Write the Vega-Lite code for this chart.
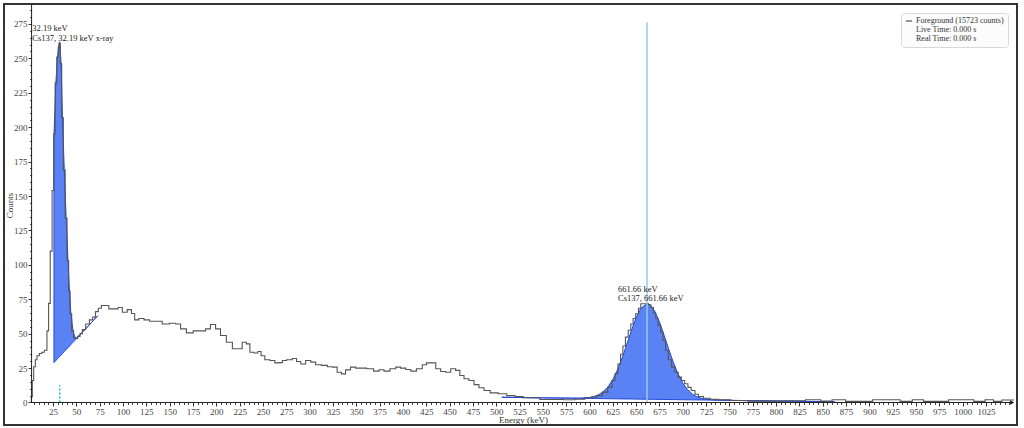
{
  "$schema": "https://vega.github.io/schema/vega-lite/v6.json",
  "width": 1013,
  "height": 421,
  "padding": {"left": 4, "top": 4, "right": 7, "bottom": 3},
  "autosize": {"type": "none"},
  "background": "white",
  "config": {
    "view": {"stroke": "#333333", "strokeWidth": 2},
    "font": "Liberation Serif"
  },
  "datasets": {
    "spectrum": [
      {"energy": 1.5, "counts": 0}, {"energy": 2, "counts": 4}, {"energy": 3.5, "counts": 16}, {"energy": 5, "counts": 26},
      {"energy": 7, "counts": 31}, {"energy": 8.6, "counts": 34}, {"energy": 12, "counts": 35.6}, {"energy": 14, "counts": 36.5},
      {"energy": 17.5, "counts": 38}, {"energy": 19.5, "counts": 52}, {"energy": 21, "counts": 72}, {"energy": 23, "counts": 110},
      {"energy": 25, "counts": 154}, {"energy": 26.5, "counts": 195}, {"energy": 28, "counts": 232}, {"energy": 30, "counts": 251},
      {"energy": 31.2, "counts": 258}, {"energy": 32, "counts": 261}, {"energy": 33.6, "counts": 246}, {"energy": 35, "counts": 207},
      {"energy": 37, "counts": 169}, {"energy": 39, "counts": 134}, {"energy": 41, "counts": 103}, {"energy": 42.5, "counts": 81},
      {"energy": 44, "counts": 64.5}, {"energy": 46, "counts": 52}, {"energy": 48, "counts": 47}, {"energy": 50, "counts": 46.5},
      {"energy": 53, "counts": 48}, {"energy": 55, "counts": 50}, {"energy": 58, "counts": 53}, {"energy": 62, "counts": 57},
      {"energy": 66, "counts": 60}, {"energy": 69, "counts": 62}, {"energy": 72, "counts": 66}, {"energy": 75, "counts": 68.5},
      {"energy": 78.6, "counts": 70.5}, {"energy": 82, "counts": 70.5}, {"energy": 87.6, "counts": 68}, {"energy": 93, "counts": 68},
      {"energy": 96.5, "counts": 69}, {"energy": 102, "counts": 65.6}, {"energy": 107, "counts": 67.5}, {"energy": 111, "counts": 64.6},
      {"energy": 114, "counts": 60}, {"energy": 120, "counts": 61}, {"energy": 125, "counts": 60}, {"energy": 132, "counts": 59},
      {"energy": 139, "counts": 59}, {"energy": 145, "counts": 57}, {"energy": 154, "counts": 57.6}, {"energy": 159, "counts": 57},
      {"energy": 164.5, "counts": 53.5}, {"energy": 171.5, "counts": 50.6}, {"energy": 179, "counts": 52}, {"energy": 186, "counts": 52},
      {"energy": 191, "counts": 53.5}, {"energy": 196.5, "counts": 56.7}, {"energy": 202, "counts": 53.5}, {"energy": 207, "counts": 48.7},
      {"energy": 214.5, "counts": 43.8}, {"energy": 220, "counts": 39}, {"energy": 225, "counts": 39}, {"energy": 230.5, "counts": 43.8},
      {"energy": 234, "counts": 42.6}, {"energy": 238, "counts": 36.5}, {"energy": 243, "counts": 36}, {"energy": 246, "counts": 37},
      {"energy": 250, "counts": 34}, {"energy": 254, "counts": 31}, {"energy": 261, "counts": 30.5}, {"energy": 264.5, "counts": 28.8},
      {"energy": 270, "counts": 29}, {"energy": 271.6, "counts": 30.5}, {"energy": 279, "counts": 31}, {"energy": 284, "counts": 32},
      {"energy": 288, "counts": 29.8}, {"energy": 293, "counts": 28}, {"energy": 298.5, "counts": 30.5}, {"energy": 304, "counts": 29.3},
      {"energy": 309, "counts": 27.4}, {"energy": 316, "counts": 27}, {"energy": 322, "counts": 26}, {"energy": 327, "counts": 25.7},
      {"energy": 332, "counts": 22}, {"energy": 336, "counts": 20.8}, {"energy": 341, "counts": 23.7}, {"energy": 346.7, "counts": 25.7},
      {"energy": 352, "counts": 25}, {"energy": 357, "counts": 25}, {"energy": 365, "counts": 24.5}, {"energy": 372, "counts": 22.8},
      {"energy": 377, "counts": 23.8}, {"energy": 382.5, "counts": 22.8}, {"energy": 389.6, "counts": 24.5}, {"energy": 395, "counts": 25.7},
      {"energy": 400, "counts": 25}, {"energy": 406, "counts": 24}, {"energy": 411, "counts": 22.8}, {"energy": 418, "counts": 24.5},
      {"energy": 423.6, "counts": 27.4}, {"energy": 427, "counts": 28.8}, {"energy": 432.5, "counts": 28.8}, {"energy": 438, "counts": 24.5},
      {"energy": 443, "counts": 22.5}, {"energy": 448.5, "counts": 22}, {"energy": 454, "counts": 24.5}, {"energy": 459, "counts": 23.3},
      {"energy": 463, "counts": 19.6}, {"energy": 468, "counts": 17.2}, {"energy": 473.5, "counts": 16}, {"energy": 479, "counts": 13},
      {"energy": 484, "counts": 10.7}, {"energy": 490, "counts": 8.7}, {"energy": 497, "counts": 7}, {"energy": 507.5, "counts": 6.3},
      {"energy": 515, "counts": 5}, {"energy": 525.5, "counts": 4.4}, {"energy": 532.6, "counts": 3.4}, {"energy": 543, "counts": 3.4},
      {"energy": 550.5, "counts": 2.2}, {"energy": 565, "counts": 2.2}, {"energy": 579, "counts": 2}, {"energy": 590, "counts": 2.4},
      {"energy": 600, "counts": 3.4}, {"energy": 605, "counts": 4}, {"energy": 611, "counts": 5}, {"energy": 617, "counts": 7.5},
      {"energy": 622, "counts": 11}, {"energy": 626, "counts": 16}, {"energy": 629, "counts": 21}, {"energy": 632, "counts": 28},
      {"energy": 634.6, "counts": 35}, {"energy": 637, "counts": 41}, {"energy": 640, "counts": 47.5}, {"energy": 643, "counts": 52.5},
      {"energy": 645.5, "counts": 57}, {"energy": 648, "counts": 61}, {"energy": 651, "counts": 64.5}, {"energy": 654, "counts": 68.5},
      {"energy": 656, "counts": 71.7}, {"energy": 662, "counts": 71.7}, {"energy": 664.5, "counts": 71}, {"energy": 667, "counts": 69},
      {"energy": 670, "counts": 65}, {"energy": 672, "counts": 61}, {"energy": 675, "counts": 56}, {"energy": 677.5, "counts": 51},
      {"energy": 680, "counts": 45}, {"energy": 683, "counts": 38}, {"energy": 686, "counts": 31}, {"energy": 690, "counts": 25.7},
      {"energy": 693, "counts": 22}, {"energy": 697, "counts": 18.4}, {"energy": 700, "counts": 16}, {"energy": 704, "counts": 13.6},
      {"energy": 707, "counts": 11}, {"energy": 711, "counts": 8.7}, {"energy": 715, "counts": 6}, {"energy": 718.5, "counts": 4.4},
      {"energy": 725.6, "counts": 3.1}, {"energy": 733, "counts": 2.4}, {"energy": 743, "counts": 2}, {"energy": 760, "counts": 1.5},
      {"energy": 780, "counts": 1}, {"energy": 800, "counts": 1}, {"energy": 820, "counts": 1.3}, {"energy": 843, "counts": 2},
      {"energy": 853, "counts": 1}, {"energy": 867, "counts": 2}, {"energy": 882, "counts": 0.8}, {"energy": 925, "counts": 2},
      {"energy": 941, "counts": 0.8}, {"energy": 951, "counts": 2}, {"energy": 965, "counts": 0.8}, {"energy": 1005, "counts": 2},
      {"energy": 1019, "counts": 0.8}, {"energy": 1029, "counts": 2}, {"energy": 1037, "counts": 0.8}, {"energy": 1047, "counts": 1.8},
      {"energy": 1055, "counts": 1.8}
    ],
    "fit1": [
      {"energy": 26, "counts": 194, "base": 29}, {"energy": 27, "counts": 212, "base": 29.7}, {"energy": 28, "counts": 232, "base": 30.4},
      {"energy": 30, "counts": 252, "base": 31.9}, {"energy": 31.2, "counts": 259, "base": 32.8}, {"energy": 32, "counts": 262, "base": 33.3},
      {"energy": 33.6, "counts": 247, "base": 34.5}, {"energy": 35, "counts": 209, "base": 35.5}, {"energy": 37, "counts": 170, "base": 37},
      {"energy": 39, "counts": 135, "base": 38.4}, {"energy": 41, "counts": 104, "base": 39.8}, {"energy": 42.5, "counts": 82, "base": 40.9},
      {"energy": 44, "counts": 66, "base": 42}, {"energy": 46, "counts": 54, "base": 43.5}, {"energy": 48, "counts": 48, "base": 44.9},
      {"energy": 50, "counts": 47, "base": 46.4}, {"energy": 53, "counts": 48.6, "base": 48.5}, {"energy": 56, "counts": 50.7, "base": 50.7},
      {"energy": 73, "counts": 63, "base": 63}
    ],
    "fit2": [
      {"energy": 506, "counts": 3.8, "base": 3.8}, {"energy": 550, "counts": 3.39, "base": 3.39}, {"energy": 580, "counts": 3.15, "base": 3.12},
      {"energy": 590, "counts": 3.17, "base": 3.02}, {"energy": 600, "counts": 3.69, "base": 2.93}, {"energy": 605, "counts": 4.41, "base": 2.89},
      {"energy": 610, "counts": 5.75, "base": 2.84}, {"energy": 615, "counts": 8.0, "base": 2.79}, {"energy": 620, "counts": 11.56, "base": 2.75},
      {"energy": 625, "counts": 16.74, "base": 2.7}, {"energy": 630, "counts": 23.75, "base": 2.66}, {"energy": 635, "counts": 32.44, "base": 2.61},
      {"energy": 640, "counts": 42.33, "base": 2.56}, {"energy": 645, "counts": 52.48, "base": 2.52}, {"energy": 650, "counts": 61.59, "base": 2.47},
      {"energy": 655, "counts": 68.36, "base": 2.43}, {"energy": 661.66, "counts": 71.87, "base": 2.37}, {"energy": 665, "counts": 70.92, "base": 2.34},
      {"energy": 670, "counts": 66.27, "base": 2.29}, {"energy": 675, "counts": 58.48, "base": 2.24}, {"energy": 680, "counts": 48.78, "base": 2.2},
      {"energy": 685, "counts": 38.5, "base": 2.15}, {"energy": 690, "counts": 28.84, "base": 2.11}, {"energy": 695, "counts": 20.58, "base": 2.06},
      {"energy": 700, "counts": 14.1, "base": 2.01}, {"energy": 705, "counts": 9.41, "base": 1.97}, {"energy": 710, "counts": 6.23, "base": 1.92},
      {"energy": 715, "counts": 4.24, "base": 1.88}, {"energy": 720, "counts": 3.04, "base": 1.83}, {"energy": 725, "counts": 2.37, "base": 1.78},
      {"energy": 730, "counts": 2.01, "base": 1.74}, {"energy": 740, "counts": 1.7, "base": 1.65}, {"energy": 760, "counts": 1.46, "base": 1.46},
      {"energy": 800, "counts": 1.08, "base": 1.08}, {"energy": 830, "counts": 0.81, "base": 0.81}, {"energy": 863, "counts": 0.5, "base": 0.5}
    ]
  },
  "data": {"values": [{}]},
  "resolve": {"axis": {"x": "independent", "y": "independent"}},
  "layer": [
    {
      "mark": {"type": "point", "opacity": 0},
      "encoding": {
        "x": {
          "datum": 100,
          "type": "quantitative",
          "axis": {
            "title": null,
            "orient": "bottom",
            "offset": -22.5,
            "domain": false,
            "grid": false,
            "labels": false,
            "tickCount": 1000,
            "values": [5,10,15,20,30,35,40,45,55,60,65,70,80,85,90,95,105,110,115,120,130,135,140,145,155,160,165,170,180,185,190,195,205,210,215,220,230,235,240,245,255,260,265,270,280,285,290,295,305,310,315,320,330,335,340,345,355,360,365,370,380,385,390,395,405,410,415,420,430,435,440,445,455,460,465,470,480,485,490,495,505,510,515,520,530,535,540,545,555,560,565,570,580,585,590,595,605,610,615,620,630,635,640,645,655,660,665,670,680,685,690,695,705,710,715,720,730,735,740,745,755,760,765,770,780,785,790,795,805,810,815,820,830,835,840,845,855,860,865,870,880,885,890,895,905,910,915,920,930,935,940,945,955,960,965,970,980,985,990,995,1005,1010,1015,1020,1030,1035,1040,1045,1050],
            "tickSize": 2,
            "tickColor": "#444444"
          }
        },
        "y": {
          "datum": 100,
          "type": "quantitative",
          "axis": {
            "title": null,
            "orient": "left",
            "offset": -27.6,
            "domain": false,
            "grid": false,
            "labels": false,
            "tickCount": 1000,
            "values": [5,10,15,20,30,35,40,45,55,60,65,70,80,85,90,95,105,110,115,120,130,135,140,145,155,160,165,170,180,185,190,195,205,210,215,220,230,235,240,245,255,260,265,270,280,285],
            "tickSize": 2,
            "tickColor": "#444444"
          }
        }
      }
    },
    {
      "layer": [
        {
          "data": {"name": "fit1"},
          "mark": {"type": "area", "color": "#5a82f4", "opacity": 1, "stroke": "#2348d8", "strokeWidth": 1},
          "encoding": {
            "x": {"field": "energy", "type": "quantitative"},
            "y": {"field": "counts", "type": "quantitative"},
            "y2": {"field": "base"}
          }
        },
        {
          "data": {"name": "fit2"},
          "mark": {"type": "area", "color": "#5a82f4", "opacity": 1, "stroke": "#2348d8", "strokeWidth": 1},
          "encoding": {
            "x": {"field": "energy", "type": "quantitative"},
            "y": {"field": "counts", "type": "quantitative"},
            "y2": {"field": "base"}
          }
        },
        {
          "mark": {"type": "rule", "color": "#22b5e0", "strokeWidth": 1.5, "strokeDash": [2, 2]},
          "encoding": {"x": {"datum": 32.19}, "y": {"datum": 0}, "y2": {"datum": 12.5}}
        },
        {
          "data": {"name": "spectrum"},
          "mark": {"type": "line", "interpolate": "step", "strokeWidth": 1.1},
          "encoding": {
            "x": {
              "field": "energy",
              "type": "quantitative",
              "scale": {"domain": [-27.55, 1058.2], "nice": false, "zero": false},
              "axis": {
                "title": "Energy (keV)",
                "orient": "bottom",
                "offset": -22.5,
                "domain": false,
                "grid": false,
                "format": "d",
                "tickCount": 1000,
                "values": [25,50,75,100,125,150,175,200,225,250,275,300,325,350,375,400,425,450,475,500,525,550,575,600,625,650,675,700,725,750,775,800,825,850,875,900,925,950,975,1000,1025],
                "tickSize": 3.5,
                "tickColor": "#333333",
                "labelFont": "Liberation Serif",
                "labelFontSize": 9,
                "labelColor": "#444444",
                "labelPadding": 1,
                "labelOverlap": false,
                "labelFlush": false,
                "titleFont": "Liberation Serif",
                "titleFontSize": 9,
                "titleFontWeight": "normal",
                "titleColor": "#333333",
                "titleX": 519,
                "titleY": 16.5,
                "titleBaseline": "middle"
              }
            },
            "y": {
              "field": "counts",
              "type": "quantitative",
              "scale": {"domain": [-16.35, 289.5], "nice": false, "zero": false},
              "axis": {
                "title": "Counts",
                "orient": "left",
                "offset": -27.6,
                "domain": false,
                "grid": false,
                "format": "d",
                "tickCount": 1000,
                "values": [0,25,50,75,100,125,150,175,200,225,250,275],
                "tickSize": 3.5,
                "tickColor": "#333333",
                "labelFont": "Liberation Serif",
                "labelFontSize": 9,
                "labelColor": "#444444",
                "labelPadding": 1,
                "labelOverlap": false,
                "labelFlush": false,
                "titleFont": "Liberation Serif",
                "titleFontSize": 9,
                "titleFontWeight": "normal",
                "titleColor": "#333333",
                "titleX": -22,
                "titleY": 201,
                "titleBaseline": "middle"
              }
            },
            "color": {
              "datum": "Foreground (15723 counts)",
              "type": "nominal",
              "scale": {
                "domain": ["Foreground (15723 counts)", "Live Time: 0.000 s", "Real Time: 0.000 s"],
                "range": ["#555555", "rgba(0,0,0,0)", "rgba(0,0,0,0)"]
              },
              "legend": {
                "title": null,
                "orient": "top-right",
                "offset": 9,
                "symbolType": "stroke",
                "symbolSize": 40,
                "symbolStrokeWidth": 1.2,
                "labelFont": "Liberation Serif",
                "labelFontSize": 8,
                "labelColor": "#333333",
                "labelOffset": 3,
                "labelLimit": 200,
                "rowPadding": 1,
                "padding": 4,
                "strokeColor": "#d8d8d8",
                "fillColor": "#fcfcfc",
                "cornerRadius": 3
              }
            }
          }
        },
        {
          "mark": {"type": "rule", "color": "#8fd0ee", "strokeWidth": 1.5},
          "encoding": {"x": {"datum": 661.66}, "y": {"datum": 0}, "y2": {"datum": 276}}
        },
        {
          "mark": {"type": "rule", "color": "#222222", "strokeWidth": 1},
          "encoding": {"y": {"datum": 0}, "x": {"datum": 2}, "x2": {"datum": 1052}}
        },
        {
          "mark": {"type": "rule", "color": "#222222", "strokeWidth": 1},
          "encoding": {"x": {"datum": 2}, "y": {"datum": 0}, "y2": {"datum": 289}}
        },
        {
          "mark": {"type": "point", "shape": "triangle-right", "filled": true, "color": "#111111", "size": 22, "opacity": 1},
          "encoding": {"x": {"datum": 1053}, "y": {"datum": 0}}
        },
        {
          "mark": {"type": "text", "align": "left", "baseline": "middle", "font": "Liberation Serif", "fontSize": 8.5, "color": "#222222"},
          "encoding": {"x": {"datum": 2.8}, "y": {"datum": 271.9}, "text": {"value": "32.19 keV"}}
        },
        {
          "mark": {"type": "text", "align": "left", "baseline": "middle", "font": "Liberation Serif", "fontSize": 8.5, "color": "#222222"},
          "encoding": {"x": {"datum": 2.8}, "y": {"datum": 265}, "text": {"value": "Cs137, 32.19 keV x-ray"}}
        },
        {
          "mark": {"type": "text", "align": "left", "baseline": "middle", "font": "Liberation Serif", "fontSize": 8.5, "color": "#222222"},
          "encoding": {"x": {"datum": 630.5}, "y": {"datum": 82.5}, "text": {"value": "661.66 keV"}}
        },
        {
          "mark": {"type": "text", "align": "left", "baseline": "middle", "font": "Liberation Serif", "fontSize": 8.5, "color": "#222222"},
          "encoding": {"x": {"datum": 630.5}, "y": {"datum": 75.7}, "text": {"value": "Cs137, 661.66 keV"}}
        }
      ]
    }
  ]
}
